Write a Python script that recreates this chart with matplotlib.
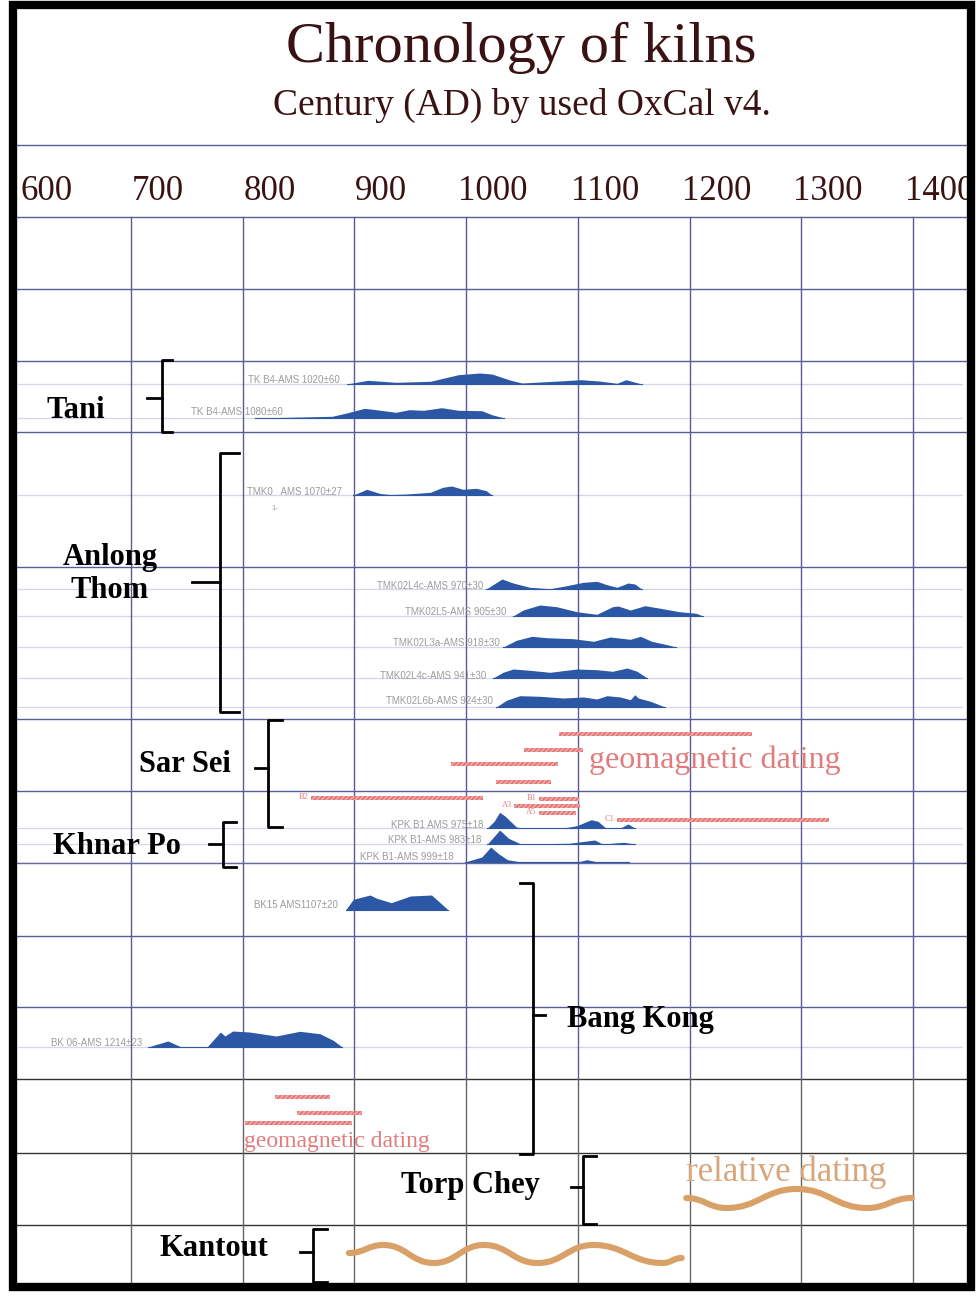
'''
    Chronology of kilns - OxCal probability plots redrawn with matplotlib
'''

import matplotlib.pyplot as plt
from matplotlib.path import Path
from matplotlib.patches import PathPatch, Rectangle

# x axis is year AD, y axis is the row position down the sheet (top = 0)
centuries = [600, 700, 800, 900, 1000, 1100, 1200, 1300, 1400]
grid_rows = [145, 217, 289, 361, 432, 567, 719, 791, 863, 936, 1007, 1079, 1153, 1225]
dark_rows = [1079, 1153, 1225]
light_rows = [384, 418, 495, 589, 616, 647, 678, 707, 828, 844, 862, 1047]

# radiocarbon sample names and their row baselines
sample_names = ['TK B4-AMS 1020±60', 'TK B4-AMS 1080±60', 'TMK0   AMS 1070±27',
                'TMK02L4c-AMS 970±30', 'TMK02L5-AMS 905±30', 'TMK02L3a-AMS 918±30',
                'TMK02L4c-AMS 941±30', 'TMK02L6b-AMS 924±30',
                'KPK B1 AMS 975±18', 'KPK B1-AMS 983±18', 'KPK B1-AMS 999±18',
                'BK15 AMS1107±20', 'BK 06-AMS 1214±23']
sample_base = [384, 418, 495, 589, 616, 647, 678, 707, 828, 844, 862, 910, 1047]
label_year = [887, 836, 804, 1015, 1036, 1030, 1018, 1024, 1015, 1014, 989, 885, 710]
label_row = [380, 412, 492, 586, 612, 643, 676, 701, 825, 840, 857, 905, 1043]

# probability curves: years and height of curve (px)
tk1020_yr = [893, 912, 937, 968, 993, 1012, 1023, 1040, 1050, 1078, 1103, 1119, 1135, 1143, 1157]
tk1020_h = [0, 3.7, 1.7, 2.7, 9.3, 11, 10, 3.7, 1, 2.7, 4.3, 3, 0.7, 4.3, 0]
tk1080_yr = [811, 880, 893, 909, 918, 937, 949, 962, 978, 993, 1014, 1023, 1034]
tk1080_h = [0, 1.7, 5, 9.7, 8.5, 5.7, 8.3, 7.7, 10.3, 7.7, 7.3, 3.3, 0]
tmk0_yr = [899, 911, 923, 932, 947, 968, 979, 987, 997, 1009, 1018, 1023]
tmk0_h = [0, 5.7, 1.5, 0.5, 1, 2.7, 7.7, 9, 5.7, 6.7, 4.3, 0]
l4c970_yr = [1018, 1024, 1032, 1042, 1057, 1075, 1087, 1105, 1117, 1126, 1135, 1145, 1151, 1157]
l4c970_h = [0, 4.3, 10, 6, 1.7, 0.3, 2.7, 6.7, 7.7, 4.3, 1.7, 6, 5, 0]
l5_yr = [1042, 1051, 1066, 1081, 1099, 1117, 1131, 1136, 1147, 1160, 1174, 1191, 1206, 1212]
l5_h = [0, 6, 11, 9.3, 4.3, 1.7, 9.3, 10, 6, 10.3, 7.7, 4.3, 2.7, 0]
l3a_yr = [1033, 1045, 1059, 1072, 1096, 1114, 1129, 1147, 1156, 1166, 1180, 1188]
l3a_h = [0, 6.7, 10.7, 9.3, 8.3, 5.7, 10, 7.7, 10.7, 5.7, 2.3, 0]
l4c941_yr = [1024, 1033, 1042, 1057, 1075, 1099, 1117, 1131, 1144, 1153, 1162]
l4c941_h = [0, 5.7, 9, 7.7, 5.7, 9, 8.3, 6.7, 10, 6.7, 0]
l6b_yr = [1027, 1036, 1048, 1066, 1087, 1105, 1117, 1126, 1138, 1147, 1151, 1154, 1165, 1178]
l6b_h = [0, 6.7, 11.3, 10.7, 9, 10, 8, 11.3, 10, 7.3, 12.3, 9, 5.7, 0]
kpk975_yr = [1019, 1025, 1030, 1035, 1045, 1050, 1087, 1099, 1112, 1118, 1125, 1138, 1145, 1151]
kpk975_h = [0, 6.7, 15.7, 11.7, 1, 0, 0, 2.3, 8.3, 6.7, 0, 0, 4, 0]
kpk983_yr = [1019, 1030, 1038, 1049, 1065, 1092, 1115, 1122, 1141, 1151]
kpk983_h = [0, 14, 5.7, 0, 0.3, 0.7, 4, 0, 1.7, 0]
kpk999_yr = [999, 1014, 1022, 1029, 1037, 1049, 1100, 1108, 1118, 1146]
kpk999_h = [0, 5, 15, 8.3, 2.3, 0, 0, 2.3, 0, 0]
bk15_yr = [892, 899, 914, 920, 933, 950, 969, 984]
bk15_h = [0, 10.7, 15, 11.7, 7.3, 14, 15, 0]
bk06_yr = [715, 733, 745, 768, 780, 784, 791, 806, 830, 851, 869, 881, 889]
bk06_h = [0, 6, 0, 0, 15, 11, 16, 15, 11, 15.7, 13.3, 6.7, 0]

curves = [(tk1020_yr, tk1020_h), (tk1080_yr, tk1080_h), (tmk0_yr, tmk0_h),
          (l4c970_yr, l4c970_h), (l5_yr, l5_h), (l3a_yr, l3a_h), (l4c941_yr, l4c941_h),
          (l6b_yr, l6b_h), (kpk975_yr, kpk975_h), (kpk983_yr, kpk983_h),
          (kpk999_yr, kpk999_h), (bk15_yr, bk15_h), (bk06_yr, bk06_h)]

# geomagnetic dating ranges
geo_start = [1083, 1052, 986, 1027, 861, 1065, 1043, 1065, 1135, 829, 849, 802]
geo_end = [1256, 1105, 1082, 1076, 1015, 1101, 1102, 1098, 1325, 878, 907, 898]
geo_row = [734, 750, 764, 782, 798, 799, 806, 813, 820, 1097, 1113, 1123]
geo_tags = ['', '', '', '', 'B2', 'B1', 'A3', 'A5', 'C1', '', '', '']

# kiln groups: name, label position, bracket
groups = ['Tani', 'Anlong\nThom', 'Sar Sei', 'Khnar Po', 'Bang Kong', 'Torp Chey', 'Kantout']
group_x = [651, 681, 748, 687, 1090, 1004, 774]
group_y = [410, 574, 764, 847, 1020, 1185, 1249]
group_ha = ['center', 'center', 'center', 'center', 'left', 'center', 'center']
br_x = [728, 780, 823, 782, 1060, 1105, 863]
br_top = [360, 453, 720, 822, 883, 1156, 1229]
br_bot = [432, 712, 827, 867, 1154, 1224, 1282]
br_mid = [398, 582, 768, 844, 1015, 1187, 1252]
br_serif = [9, 17, 12, 12, -12, 11, 12]
br_tick = [-14, -25, -12, -12, 11, -11, -12]

# relative dating waves (crest / trough points)
kantout_wave_yr = [895, 926, 971, 1016, 1064, 1114, 1176, 1193]
kantout_wave_y = [1253, 1245, 1263, 1245, 1263, 1245, 1263, 1258]
torp_wave_yr = [1197, 1233, 1296, 1359, 1399]
torp_wave_y = [1198, 1208, 1189, 1208, 1198]

title_col = '#3a1214'
grid_col = '#5a5c94'
blue = '#2c57a5'
red = '#e27c7c'
tan = '#d9a068'


def wave(axes, xs, ys):
    verts = [(xs[0], ys[0])]
    codes = [Path.MOVETO]
    for i in range(1, len(xs)):
        dx = xs[i] - xs[i-1]
        verts += [(xs[i-1] + dx*0.45, ys[i-1]), (xs[i] - dx*0.45, ys[i]), (xs[i], ys[i])]
        codes += [Path.CURVE4]*3
    axes.add_patch(PathPatch(Path(verts, codes), fill=False, ec=tan, lw=4.4,
                             capstyle='round', zorder=4))


fig = plt.figure(figsize=(9.8, 12.97), dpi=100)
ax = fig.add_axes([0, 0, 1, 1])
ax.set_xlim(582.7, 1460.0)
ax.set_ylim(1297, 0)
ax.axis('off')

# grid
x_l, x_r = 594, 1452
for r in grid_rows:
    ax.plot([x_l, x_r], [r, r], color='#333333' if r in dark_rows else grid_col,
            lw=1.0, zorder=1)
for r in light_rows:
    ax.plot([x_l + 5, x_r - 8], [r, r], color='#d6d6e4', lw=0.9, zorder=1)
for c in centuries[1:]:
    ax.plot([c, c], [217, 1079], color=grid_col, lw=1.0, zorder=1)
    ax.plot([c, c], [1079, 1285], color='#666666', lw=1.0, zorder=1)

# title and century labels
ax.text(1049, 62, 'Chronology of kilns', ha='center', va='baseline', fontsize=42,
        family='Liberation Serif', color=title_col)
ax.text(1050, 115, 'Century (AD) by used OxCal v4.', ha='center', va='baseline',
        fontsize=27, family='Liberation Serif', color=title_col)
for c in centuries:
    ax.text(c + 24, 200, str(c), ha='center', va='baseline', fontsize=25,
            family='Liberation Serif', color=title_col)

# probability curves
for (yr, h), base in zip(curves, sample_base):
    ax.fill_between(yr, base, [base - v for v in h], color=blue, lw=0, zorder=3)
    ax.plot([yr[0], yr[-1]], [base, base], color=blue, lw=0.8, zorder=3)
for name, lx, ly in zip(sample_names, label_year, label_row):
    ha = 'left' if name.startswith('TMK0 ') else 'right'
    ax.text(lx, ly, name, ha=ha, va='center', fontsize=7,
            family='Liberation Sans', color='#9c9c9c', zorder=4)
ax.text(829, 508, '1-', ha='center', va='center', fontsize=5.5,
        family='Liberation Sans', color='#9c9c9c')

# geomagnetic ranges
plt.rcParams['hatch.linewidth'] = 1.2
ax.barh(geo_row, [e - s for s, e in zip(geo_start, geo_end)], left=geo_start, height=4.4,
        color='#f2a8a8', edgecolor='#e27474', hatch='///////', lw=0, zorder=3)
for s, r, t in zip(geo_start, geo_row, geo_tags):
    if t:
        ax.text(s - 2, r - 1, t, ha='right', va='center', fontsize=6,
                family='Liberation Serif', color=red, zorder=4)
ax.text(1110, 760, 'geomagnetic dating', ha='left', va='center', fontsize=23,
        family='Liberation Serif', color=red, zorder=4)
ax.text(801, 1142, 'geomagnetic dating', ha='left', va='center', fontsize=17,
        family='Liberation Serif', color=red, zorder=4)

# relative dating
ax.text(1197, 1172, 'relative dating', ha='left', va='center', fontsize=25,
        family='Liberation Serif', color='#d8a67c', zorder=4)
wave(ax, kantout_wave_yr, kantout_wave_y)
wave(ax, torp_wave_yr, torp_wave_y)

# kiln groups and brackets
for g, gx, gy, ha in zip(groups, group_x, group_y, group_ha):
    ax.text(gx, gy, g, ha=ha, va='center', fontsize=22, fontweight='bold',
            family='Liberation Serif', color='black', linespacing=1.2, zorder=5)
for x, t, b, m, s, k in zip(br_x, br_top, br_bot, br_mid, br_serif, br_tick):
    ax.plot([x + s, x, x, x + s], [t, t, b, b], color='black', lw=2, zorder=5)
    ax.plot([x, x + k], [m, m], color='black', lw=2, zorder=5)

# outer frame
ax.add_patch(Rectangle((12.5/980, 1 - 1287/1297), (971 - 12.5)/980, (1287 - 5)/1297,
                       transform=ax.transAxes, fill=False, ec='black', lw=6, zorder=10))

fig.savefig('out.png', dpi=100)
